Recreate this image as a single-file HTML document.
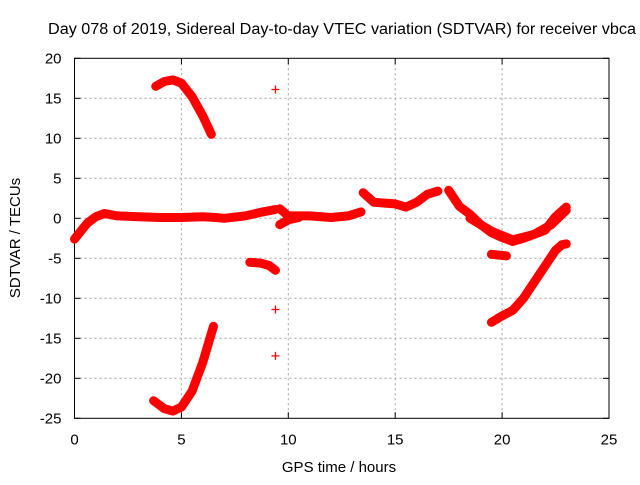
<!DOCTYPE html>
<html><head><meta charset="utf-8"><style>
body{margin:0;background:#fff}
svg text{font-family:"Liberation Sans",sans-serif;font-size:15px;fill:#000}
</style></head><body>
<svg id="c" width="640" height="480" viewBox="0 0 640 480">
<text x="48" y="34" textLength="588" lengthAdjust="spacingAndGlyphs" style="font-size:15.5px">Day 078 of 2019, Sidereal Day-to-day VTEC variation (SDTVAR) for receiver vbca</text>
<g id="grid"></g><g id="axes"></g><g id="data"></g>
<text x="339" y="472" text-anchor="middle">GPS time / hours</text>
<text transform="translate(20,238) rotate(-90)" text-anchor="middle">SDTVAR / TECUs</text>
</svg>
<script>
const xTicks=[0,5,10,15,20,25];
const yTicks=[20,15,10,5,0,-5,-10,-15,-20,-25];
const segMain=[[0,-2.6],[0.3,-1.6],[0.6,-0.6],[1,0.2],[1.4,0.6],[2,0.3],[3,0.2],[4,0.1],[5,0.1],[6,0.2],[6.6,0.1],[7,0],[8,0.3],[8.8,0.8],[9.4,1.1]];
const segUpperArc=[[3.8,16.5],[4.2,17.1],[4.6,17.3],[5,16.9],[5.5,15.2],[6,12.8],[6.4,10.5]];
const segLowerArc=[[3.7,-22.8],[4.2,-23.8],[4.6,-24.1],[5,-23.6],[5.5,-21.6],[6,-18],[6.5,-13.5]];
const segDip=[[8.2,-5.5],[8.7,-5.6],[9.1,-5.9],[9.4,-6.5]];
const segMid=[[9.6,1.2],[10,0.3],[11,0.3],[12,0.1],[12.8,0.3],[13.4,0.8]];
const segMidLow=[[9.6,-0.8],[10,-0.2],[10.5,0.1]];
const segRise=[[13.5,3.2],[14,2],[15,1.8],[15.5,1.4],[16,2],[16.5,3],[17,3.4]];
const segFall=[[17.5,3.5],[18,1.5],[18.5,0.5],[19,-0.8],[19.5,-1.8],[20,-2.4],[20.5,-2.9],[21,-2.5],[22,-1.5],[22.5,0.2],[23,1.4]];
const segFallLow=[[18.5,0],[19.5,-1.6],[20.5,-2.7],[21.5,-2],[22.3,-0.8],[22.8,0.5],[23,1]];
const segShort=[[19.5,-4.5],[20.2,-4.7]];
const segDeep=[[19.5,-13],[20,-12.2],[20.5,-11.5],[21,-10],[21.5,-8],[22,-6],[22.5,-4],[22.8,-3.3],[23,-3.2]];
const isolated=[[9.4,16.1],[9.4,-11.4],[9.4,-17.2]];
const segments=[segMain,segUpperArc,segLowerArc,segDip,segMid,segMidLow,segRise,segFall,segFallLow,segShort,segDeep];
const X0=74.5,X1=609,Y0=418.3,Y1=58.3;
const sx=v=>X0+(v-0)/25*(X1-X0);
const sy=v=>Y0-(v+25)/45*(Y0-Y1);
const NS="http://www.w3.org/2000/svg";
function mk(t,a,p){const e=document.createElementNS(NS,t);for(const k in a)e.setAttribute(k,a[k]);p.appendChild(e);return e;}
const grid=document.getElementById('grid'),axes=document.getElementById('axes'),data=document.getElementById('data');
xTicks.forEach(t=>{const x=sx(t);
 if(t>0&&t<25){const g=mk('line',{x1:x,x2:x,y1:Y1,y2:Y0,stroke:'#a0a0a0','stroke-dasharray':'2,3'},grid);
 }
 mk('line',{x1:x,x2:x,y1:Y0,y2:Y0-6,stroke:'#000'},axes);mk('line',{x1:x,x2:x,y1:Y1,y2:Y1+6,stroke:'#000'},axes);
 const l=mk('text',{x:x,y:Y0+26,'text-anchor':'middle'},axes);l.textContent=t;
 });
yTicks.forEach(t=>{const y=sy(t);
 if(t>-25&&t<20){const g=mk('line',{x1:X0,x2:X1,y1:y,y2:y,stroke:'#a0a0a0','stroke-dasharray':'2,3'},grid);
 }
 mk('line',{x1:X0,x2:X0+6,y1:y,y2:y,stroke:'#000'},axes);mk('line',{x1:X1,x2:X1-6,y1:y,y2:y,stroke:'#000'},axes);
 const l=mk('text',{x:X0-13,y:y+5,'text-anchor':'end'},axes);l.textContent=t;
 });
const fr=mk('rect',{x:X0,y:Y1,width:X1-X0,height:Y0-Y1,fill:'none',stroke:'#000'},axes);

segments.forEach(s=>{const p=mk('polyline',{points:s.map(d=>sx(d[0])+','+sy(d[1])).join(' '),fill:'none',stroke:'#f00','stroke-width':9,'stroke-linejoin':'round','stroke-linecap':'round'},data);
 });
isolated.forEach(d=>{const x=sx(d[0]),y=sy(d[1]);
 const p=mk('path',{d:`M${x-4},${y}H${x+4}M${x},${y-4}V${y+4}`,stroke:'#f00','stroke-width':1.3},data);
 });
</script>
</body></html>
